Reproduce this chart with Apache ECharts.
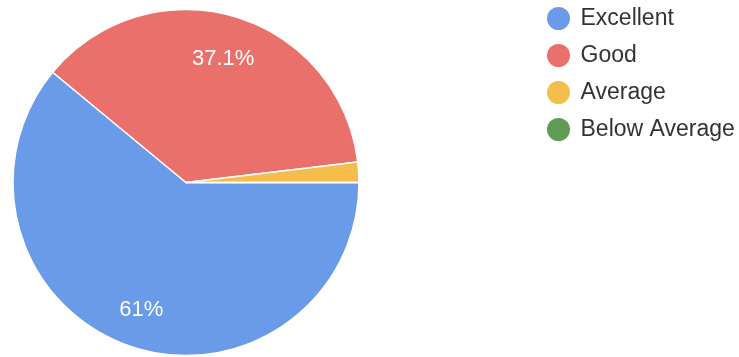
<!DOCTYPE html>
<html>
<head>
<meta charset="utf-8">
<script src="https://cdn.jsdelivr.net/npm/echarts@6/dist/echarts.min.js"></script>
<style>
  html, body { margin: 0; padding: 0; background: #fff; }
  #chart { width: 739px; height: 357px; }
</style>
</head>
<body>
<div id="chart"></div>
<script>
const categories = ['Excellent', 'Good', 'Average', 'Below Average']
const percents = [61, 37.1, 1.9, 0]
const colors = ['#6a9be8', '#ea716b', '#f5bd4c', '#5f9b53']

const chart = echarts.init(document.getElementById('chart'))

const pieData = categories.map((name, i) => ({
  name: name,
  value: percents[i],
  itemStyle: { color: colors[i] }
}))

const option = {
  animation: false,
  legend: {
    orient: 'vertical',
    left: 542,
    top: 2,
    icon: 'circle',
    itemWidth: 34,
    itemHeight: 23,
    itemGap: 14,
    itemStyle: { borderWidth: 0 },
    textStyle: {
      fontFamily: 'Liberation Sans, Arial, sans-serif',
      fontSize: 23,
      color: '#333'
    },
    data: categories
  },
  series: [{
    name: 'main',
    type: 'pie',
    center: [186, 182.5],
    radius: 173,
    startAngle: 0,
    clockwise: true,
    silent: true,
    label: { show: false },
    labelLine: { show: false },
    itemStyle: { borderColor: '#fff', borderWidth: 1.5 },
    data: pieData
  }, {
    // transparent twin, only used to put the labels at ~0.74 of the radius
    name: 'labels',
    type: 'pie',
    center: [186, 182.5],
    radius: 258,
    startAngle: 0,
    clockwise: true,
    silent: true,
    legendHoverLink: false,
    itemStyle: { color: 'rgba(0,0,0,0)', borderWidth: 0 },
    labelLine: { show: false },
    label: {
      show: true,
      position: 'inside',
      color: '#fff',
      offset: [0, 3],
      fontFamily: 'Liberation Sans, Arial, sans-serif',
      fontSize: 22,
      formatter: p => (p.value >= 5 ? p.value + '%' : '')
    },
    data: categories.map((name, i) => ({ name: name, value: percents[i] }))
  }]
}

chart.setOption(option)
</script>
</body>
</html>
